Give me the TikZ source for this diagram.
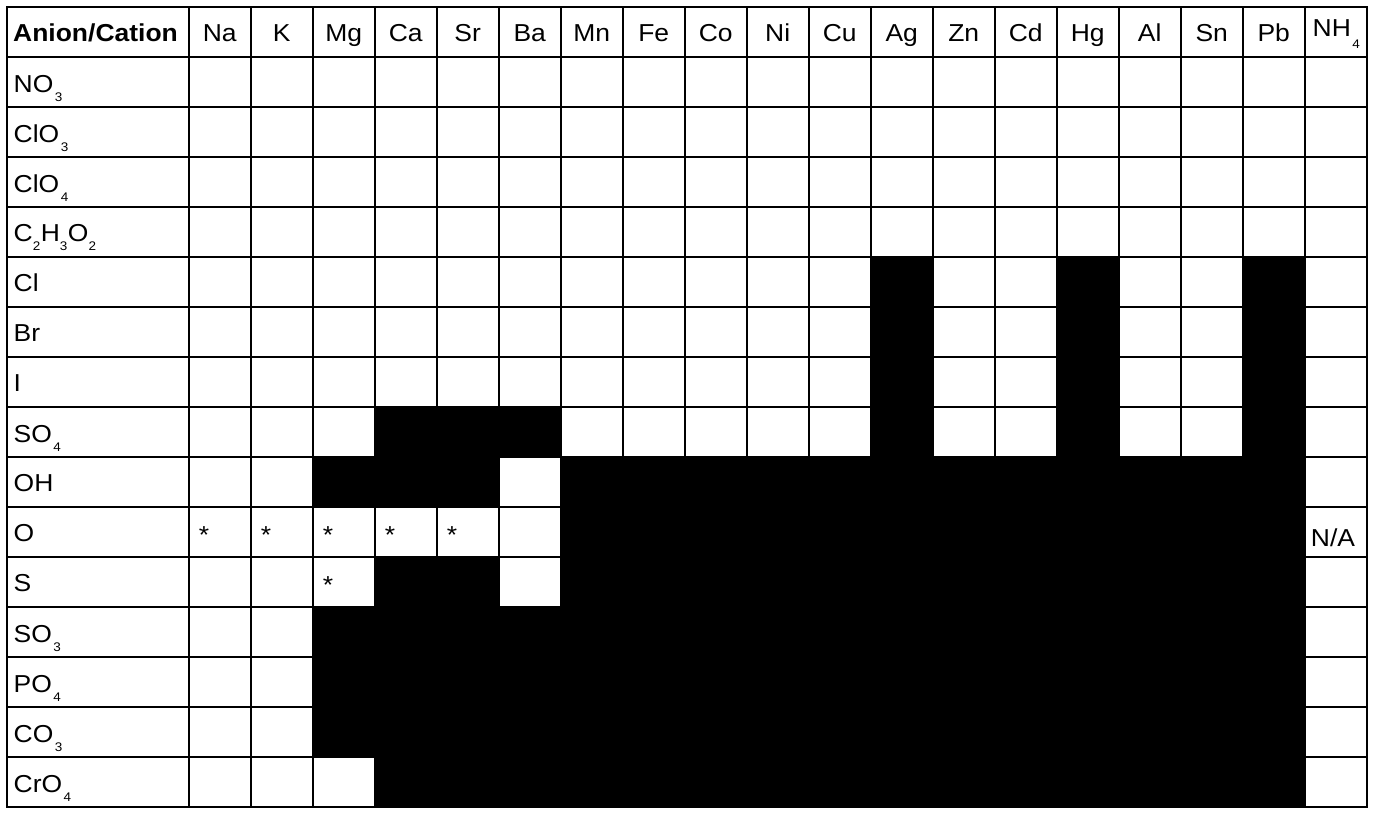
\documentclass[tikz,border=0pt]{standalone}
\usepackage{fontspec}
\setmainfont{Liberation Sans}[FakeStretch=1.08]
\newcommand{\sbs}[1]{\kern1.5pt\raisebox{-8.5pt}{\fontsize{12.5}{14}\selectfont #1}}
\newcommand{\sbsh}[1]{\kern1.5pt\raisebox{-12pt}{\fontsize{12.5}{14}\selectfont #1}}
\newcommand{\sbsl}[1]{\raisebox{-8.5pt}{\fontsize{12.5}{14}\selectfont #1}\kern0.5pt}
\newcommand{\blkcell}[4]{\fill ({188.7+62*#1},{6.7+50*#3}) rectangle ({188.7+62*(#2+1)},{6.7+50*(#4+1)});}
\begin{document}
\begin{tikzpicture}[x=1pt,y=-1pt,
  lbl/.style={anchor=base west,inner sep=0pt,font=\fontsize{24.5}{29}\selectfont},
  hdr/.style={anchor=base,inner sep=0pt,font=\fontsize{24.5}{29}\selectfont},
  gridline/.style={line width=2.2pt,line cap=rect}]
\useasboundingbox (0,0) rectangle (1376,816);
\fill[white] (0,0) rectangle (1376,816);
% black (insoluble) cells: columns 0=Na ... 18=NH4, rows 1=NO3 ... 15=CrO4
\blkcell{11}{11}{5}{8}
\blkcell{14}{14}{5}{8}
\blkcell{17}{17}{5}{8}
\blkcell{3}{5}{8}{8}
\blkcell{2}{4}{9}{9}
\blkcell{6}{17}{9}{15}
\blkcell{3}{4}{11}{11}
\blkcell{2}{5}{12}{14}
\blkcell{3}{5}{15}{15}
% grid
\foreach \j in {0,...,16}
  \draw[gridline] (6.7,{6.7+50*\j}) -- (1366.7,{6.7+50*\j});
\draw[gridline] (6.7,6.7) -- (6.7,806.7);
\foreach \i in {0,...,19}
  \draw[gridline] ({188.7+62*\i},6.7) -- ({188.7+62*\i},806.7);
% header
\node[lbl,font=\fontsize{24.5}{29}\selectfont\bfseries] (h) at (13,41.7) {Anion/Cation};
\foreach \t [count=\k from 0] in {Na,K,Mg,Ca,Sr,Ba,Mn,Fe,Co,Ni,Cu,Ag,Zn,Cd,Hg,Al,Sn,Pb}
  \node[hdr] (h\k) at ({219.7+62*\k},41.7) {\t};
\node[lbl] (h18) at (1312.5,37) {NH\sbsh{4}};
% row labels
\node[lbl] (r1) at (13.5,{56.7+36}) {NO\sbs{3}};
\node[lbl] (r2) at (13.5,{106.7+36}) {ClO\sbs{3}};
\node[lbl] (r3) at (13.5,{156.7+36}) {ClO\sbs{4}};
\node[lbl] (r4) at (13.5,{206.7+35}) {C\sbsl{2}H\sbsl{3}O\sbsl{2}};
\node[lbl] (r5) at (13.5,{256.7+34.7}) {Cl};
\node[lbl] (r6) at (13.5,{306.7+34.7}) {Br};
\node[lbl] (r7) at (13.5,{356.7+34.7}) {I};
\node[lbl] (r8) at (13.5,{406.7+36}) {SO\sbs{4}};
\node[lbl] (r9) at (13.5,{456.7+34.7}) {OH};
\node[lbl] (r10) at (13.5,{506.7+34.7}) {O};
\node[lbl] (r11) at (13.5,{556.7+34.7}) {S};
\node[lbl] (r12) at (13.5,{606.7+36}) {SO\sbs{3}};
\node[lbl] (r13) at (13.5,{656.7+36}) {PO\sbs{4}};
\node[lbl] (r14) at (13.5,{706.7+36}) {CO\sbs{3}};
\node[lbl] (r15) at (13.5,{756.7+36}) {CrO\sbs{4}};
% asterisks and N/A
\foreach \k in {0,...,4}
  \node[lbl] (a\k) at ({188.7+62*\k+10},{506.7+36.5}) {*};
\node[lbl] (aS) at ({188.7+62*2+10},{556.7+36.5}) {*};
\node[lbl] (na) at ({188.7+62*18+6},{506.7+39.3}) {N/A};
\end{tikzpicture}
\end{document}
